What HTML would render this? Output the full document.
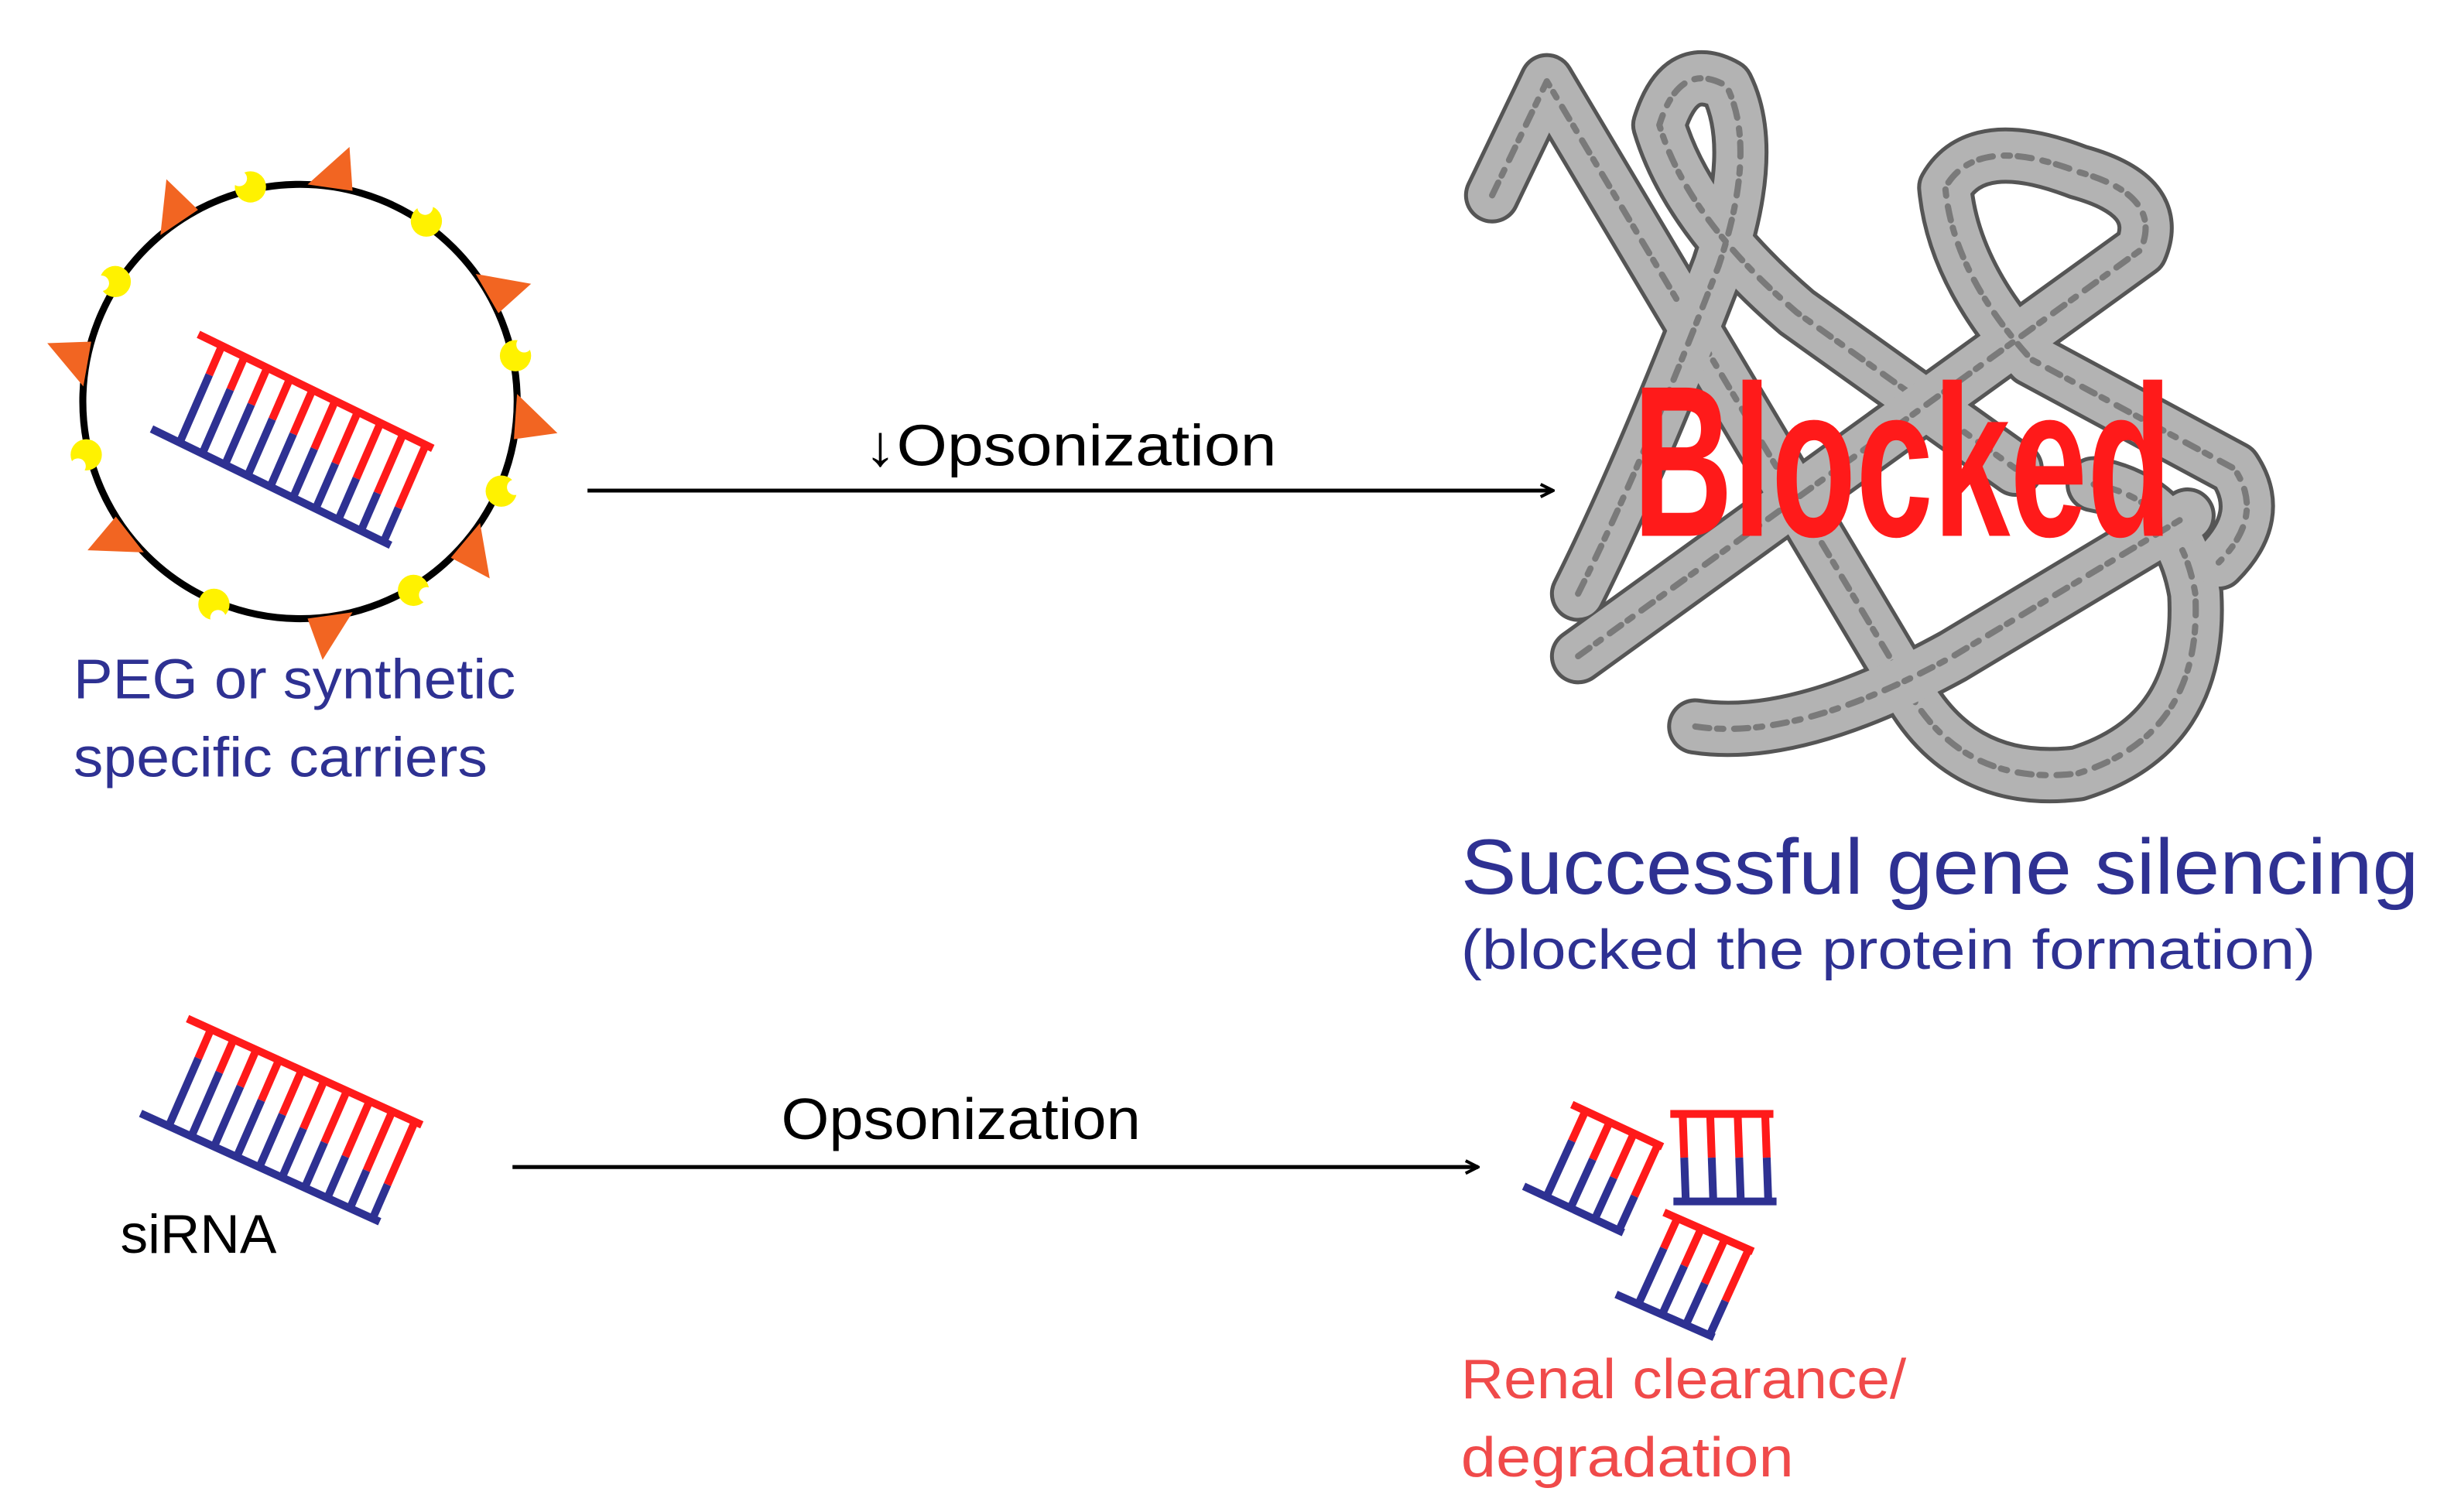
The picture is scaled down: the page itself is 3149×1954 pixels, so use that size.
<!DOCTYPE html>
<html><head><meta charset="utf-8"><style>
html,body{margin:0;padding:0;background:#fff;}
svg{display:block;}
text{font-family:"Liberation Sans",sans-serif;}
</style></head><body>
<svg id="s" width="3149" height="1954" viewBox="0 0 1559.7 967.8" xmlns="http://www.w3.org/2000/svg">
<defs>
<marker id="ah" markerWidth="10" markerHeight="10" refX="9" refY="5" orient="auto" markerUnits="userSpaceOnUse">
<path d="M1,1 L9,5 L1,9" fill="none" stroke="#000" stroke-width="2"/>
</marker>
</defs>
<g id="prot" fill="none" stroke-linecap="round" stroke-linejoin="round"></g>
<text x="1045" y="343" font-family="Liberation Sans Narrow, Liberation Sans, sans-serif" font-weight="bold" font-size="138" fill="#ff1a1a" textLength="345" lengthAdjust="spacingAndGlyphs">Blocked</text>
<circle cx="192" cy="257" r="139" fill="none" stroke="#000" stroke-width="4.5"/>
<g id="deco"></g>
<g id="lad" stroke-width="5" stroke-linecap="butt"></g>
<line x1="376" y1="314" x2="994" y2="314" stroke="#000" stroke-width="2.5" marker-end="url(#ah)"/>
<line x1="328" y1="747" x2="946" y2="747" stroke="#000" stroke-width="2.5" marker-end="url(#ah)"/>
<text x="553" y="298" font-size="37" fill="#000" textLength="264" lengthAdjust="spacingAndGlyphs">↓Opsonization</text>
<text x="500" y="729" font-size="37" fill="#000" textLength="230" lengthAdjust="spacingAndGlyphs">Opsonization</text>
<text x="47" y="447" font-size="36" fill="#2e3192" textLength="283" lengthAdjust="spacingAndGlyphs">PEG or synthetic</text>
<text x="47" y="497" font-size="36" fill="#2e3192" textLength="265" lengthAdjust="spacingAndGlyphs">specific carriers</text>
<text x="935" y="572" font-size="50" fill="#2e3192" textLength="613" lengthAdjust="spacingAndGlyphs">Successful gene silencing</text>
<text x="935" y="620" font-size="36" fill="#2e3192" textLength="547" lengthAdjust="spacingAndGlyphs">(blocked the protein formation)</text>
<text x="77" y="802" font-size="35" fill="#000" textLength="100" lengthAdjust="spacingAndGlyphs">siRNA</text>
<text x="935" y="895" font-size="36" fill="#f04a4a" textLength="285" lengthAdjust="spacingAndGlyphs">Renal clearance/</text>
<text x="935" y="945" font-size="36" fill="#f04a4a" textLength="213" lengthAdjust="spacingAndGlyphs">degradation</text>
</svg>
<script>
var NS="http://www.w3.org/2000/svg";
function el(p,t,a){var e=document.createElementNS(NS,t);for(var k in a)e.setAttribute(k,a[k]);p.appendChild(e);return e;}
var prot=document.getElementById('prot');
var paths=[
"M955,125 L990,52 L1215,430 Q1250,505 1330,495 Q1410,470 1405,380 Q1395,320 1340,310",
"M1010,380 Q1050,300 1100,170 Q1125,95 1105,55 Q1075,38 1062,80 Q1080,140 1150,200 L1290,300",
"M1010,420 L1370,160 Q1385,125 1330,110 Q1265,85 1245,120 Q1250,175 1300,230 L1430,300 Q1450,330 1420,360",
"M1085,465 Q1150,475 1250,420 L1400,330"
];
paths.forEach(function(d){ el(prot,'path',{d:d,stroke:'#555',"stroke-width":36}); });
paths.forEach(function(d){
 el(prot,'path',{d:d,stroke:'#b3b3b3',"stroke-width":31});
 el(prot,'path',{d:d,stroke:'#7a7a7a',"stroke-width":4,"stroke-dasharray":"9 5 4 7"});
});
var deco=document.getElementById('deco');
var cx=192,cy=257,R=139;
[-82,-124,-30,190,4,142,40,82].forEach(function(a){
 var r=Math.PI/180;
 var p1=[cx+R*Math.cos((a-6)*r),cy+R*Math.sin((a-6)*r)];
 var p2=[cx+R*Math.cos((a+6)*r),cy+R*Math.sin((a+6)*r)];
 var p3=[cx+(R+27)*Math.cos((a+3)*r),cy+(R+27)*Math.sin((a+3)*r)];
 el(deco,'polygon',{points:p1+" "+p2+" "+p3,fill:'#f26522'});
});
[-103,-55,-147,-12,166,24,113,59].forEach(function(a){
 var r=Math.PI/180;
 var x=cx+(R+2)*Math.cos(a*r),y=cy+(R+2)*Math.sin(a*r);
 el(deco,'circle',{cx:x,cy:y,r:10,fill:'#fff200'});
 el(deco,'circle',{cx:x+9*Math.cos((a-40)*r),cy:y+9*Math.sin((a-40)*r),r:5,fill:'#fff'});
});
var lad=document.getElementById('lad');
function ladder(A,B,v,n,t0,t1,ext,f0,f1){
 el(lad,'line',{x1:A[0],y1:A[1],x2:B[0],y2:B[1],stroke:'#ff1a1a'});
 var dx=B[0]-A[0],dy=B[1]-A[1];
 el(lad,'line',{x1:A[0]+v[0]-dx*ext,y1:A[1]+v[1]-dy*ext,x2:B[0]+v[0],y2:B[1]+v[1],stroke:'#2e3192'});
 for(var i=0;i<n;i++){
  var t=t0+(t1-t0)*i/(n-1);
  var x=A[0]+dx*t,y=A[1]+dy*t;
  var f=f0+(f1-f0)*i/(n-1);
  el(lad,'line',{x1:x,y1:y,x2:x+v[0]*f,y2:y+v[1]*f,stroke:'#ff1a1a'});
  el(lad,'line',{x1:x+v[0]*f,y1:y+v[1]*f,x2:x+v[0],y2:y+v[1],stroke:'#2e3192'});
 }
}
ladder([127,214],[277,287],[-27,62],10,0.1,0.97,0.02,0.3,0.65);
ladder([120,652],[270,720],[-27,62],10,0.1,0.97,0.02,0.3,0.65);
ladder([1006,707],[1064,734],[-25,55],4,0.15,0.95,0.1,0.35,0.6);
ladder([1069,713],[1135,713],[2,56],4,0.12,0.92,0,0.5,0.5);
ladder([1065,776],[1122,801],[-25,55],4,0.15,0.95,0.1,0.35,0.6);
</script>
</body></html>
